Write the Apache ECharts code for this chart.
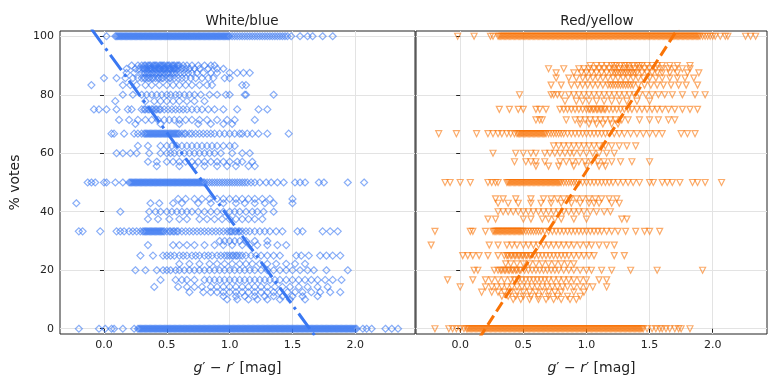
<!DOCTYPE html>
<html><head><meta charset="utf-8">
<script src="https://cdn.jsdelivr.net/npm/echarts@6/dist/echarts.min.js"></script>
<style>html,body{margin:0;padding:0;background:#fff}#c{width:768px;height:383px}</style>
</head><body><div id="c"></div>
<script>
const xTicks = [0, 0.5, 1, 1.5, 2];
const yTicks = [0, 20, 40, 60, 80, 100];

const blueLevels = [100, 90, 88.9, 87.5, 85.7, 83.3, 80, 77.8, 75, 71.4, 70, 66.7, 62.5, 60, 57.1, 55.6, 50, 44.4, 42.9, 40, 37.5, 33.3, 30, 28.6, 25, 22.2, 20, 16.7, 14.3, 12.5, 11.1, 10, 0];
const blueX = [
  [0.02,0.09,0.1,0.11,0.12,0.13,0.14,0.15,0.16,0.17,0.18,0.19,0.2,0.21,0.22,0.23,0.24,0.25,0.26,0.27,0.28,0.29,0.3,0.31,0.32,0.33,0.34,0.35,0.36,0.37,0.38,0.39,0.4,0.41,0.42,0.43,0.44,0.45,0.46,0.47,0.48,0.49,0.5,0.51,0.52,0.53,0.54,0.55,0.56,0.57,0.58,0.59,0.6,0.61,0.62,0.63,0.64,0.65,0.66,0.67,0.68,0.69,0.7,0.71,0.72,0.73,0.74,0.75,0.76,0.77,0.78,0.79,0.8,0.81,0.82,0.83,0.84,0.85,0.86,0.87,0.88,0.89,0.9,0.91,0.92,0.93,0.94,0.95,0.96,0.97,0.98,0.99,1.0,1.02,1.04,1.06,1.08,1.1,1.12,1.14,1.16,1.18,1.2,1.22,1.24,1.26,1.28,1.3,1.32,1.34,1.36,1.38,1.4,1.42,1.44,1.46,1.49,1.56,1.62,1.66,1.74,1.82],
  [0.22,0.27,0.3,0.32,0.33,0.35,0.36,0.37,0.39,0.4,0.41,0.42,0.44,0.45,0.46,0.47,0.48,0.5,0.51,0.52,0.54,0.55,0.56,0.58,0.59,0.6,0.63,0.66,0.7,0.75,0.8,0.85,0.88],
  [0.18,0.25,0.28,0.31,0.32,0.34,0.36,0.37,0.38,0.4,0.41,0.43,0.44,0.45,0.47,0.48,0.49,0.51,0.52,0.53,0.55,0.56,0.57,0.59,0.62,0.65,0.68,0.72,0.76,0.83,0.9,0.95],
  [0.18,0.24,0.3,0.32,0.33,0.35,0.36,0.38,0.39,0.41,0.42,0.44,0.45,0.47,0.48,0.5,0.51,0.53,0.55,0.56,0.58,0.61,0.64,0.67,0.7,0.74,0.79,0.85,0.9,1.0,1.06,1.11,1.16],
  [0.0,0.1,0.17,0.23,0.27,0.3,0.32,0.33,0.35,0.36,0.38,0.39,0.41,0.43,0.44,0.46,0.47,0.5,0.52,0.53,0.56,0.59,0.62,0.65,0.69,0.73,0.78,0.83,0.87,0.96,1.0],
  [-0.1,0.15,0.21,0.26,0.33,0.38,0.44,0.5,0.55,0.6,0.65,0.7,0.76,0.82,0.86,1.1,1.13],
  [0.15,0.23,0.3,0.34,0.38,0.42,0.46,0.5,0.53,0.57,0.6,0.64,0.68,0.72,0.77,0.84,0.9,0.97,1.0,1.12,1.13,1.35],
  [0.09,0.33,0.4,0.45,0.5,0.55,0.6,0.66,0.72,0.8],
  [-0.08,-0.04,0.02,0.1,0.19,0.22,0.3,0.32,0.33,0.35,0.36,0.38,0.39,0.41,0.42,0.44,0.45,0.48,0.51,0.54,0.57,0.6,0.63,0.66,0.7,0.74,0.78,0.83,0.88,0.95,1.06,1.23,1.3],
  [0.12,0.2,0.27,0.33,0.38,0.43,0.48,0.52,0.56,0.6,0.65,0.7,0.76,0.82,0.9,0.98,1.04,1.2],
  [0.25,0.45,0.6,0.75,0.85,0.95,1.02],
  [0.06,0.08,0.16,0.24,0.27,0.3,0.32,0.33,0.34,0.35,0.36,0.37,0.38,0.39,0.4,0.41,0.42,0.43,0.44,0.45,0.46,0.47,0.48,0.49,0.5,0.51,0.52,0.53,0.54,0.55,0.56,0.57,0.58,0.59,0.6,0.62,0.64,0.65,0.68,0.7,0.73,0.76,0.79,0.82,0.85,0.88,0.92,0.96,1.0,1.04,1.08,1.1,1.14,1.18,1.23,1.3,1.47],
  [0.27,0.35,0.45,0.5,0.54,0.58,0.62,0.66,0.7,0.74,0.78,0.82,0.86,0.9,0.95,1.0,1.04],
  [0.1,0.15,0.21,0.26,0.36,0.45,0.5,0.53,0.56,0.6,0.64,0.68,0.72,0.76,0.8,0.84,0.88,0.93,1.02,1.1,1.16],
  [0.35,0.42,0.5,0.55,0.6,0.65,0.7,0.75,0.8,0.85,0.9,0.95,1.0,1.06,1.1,1.18],
  [0.42,0.6,0.72,0.8,0.9,0.98,1.05,1.15,1.2],
  [-0.13,-0.1,-0.07,0.0,0.02,0.09,0.15,0.2,0.21,0.22,0.23,0.24,0.25,0.26,0.27,0.28,0.29,0.3,0.31,0.32,0.33,0.34,0.35,0.36,0.37,0.38,0.39,0.4,0.41,0.42,0.43,0.44,0.45,0.46,0.47,0.48,0.49,0.5,0.51,0.52,0.53,0.54,0.55,0.56,0.57,0.58,0.59,0.6,0.61,0.62,0.63,0.64,0.65,0.66,0.67,0.68,0.69,0.7,0.71,0.72,0.73,0.74,0.75,0.76,0.77,0.78,0.79,0.8,0.82,0.84,0.86,0.88,0.9,0.92,0.94,0.96,0.98,1.0,1.02,1.04,1.06,1.08,1.1,1.12,1.14,1.17,1.2,1.24,1.29,1.33,1.38,1.43,1.52,1.56,1.6,1.71,1.75,1.94,2.07],
  [0.59,0.65,0.72,0.78,0.84,0.9,0.95,1.0,1.05,1.1,1.15,1.2,1.26,1.32,1.5],
  [-0.22,0.37,0.44,0.55,0.62,0.75,0.85,0.95,1.05,1.12,1.2,1.28,1.35,1.5],
  [0.13,0.36,0.41,0.45,0.5,0.54,0.58,0.62,0.66,0.7,0.75,0.8,0.85,0.9,0.95,1.0,1.04,1.08,1.13,1.18,1.22,1.27,1.35],
  [0.35,0.43,0.52,0.6,0.66,0.76,0.82,0.88,0.94,1.0,1.05,1.1,1.15,1.2,1.26],
  [-0.2,-0.17,-0.03,0.1,0.13,0.16,0.2,0.23,0.26,0.29,0.31,0.32,0.33,0.34,0.35,0.36,0.37,0.38,0.39,0.4,0.41,0.42,0.43,0.44,0.45,0.46,0.47,0.48,0.5,0.52,0.53,0.55,0.56,0.58,0.59,0.62,0.65,0.68,0.71,0.74,0.77,0.8,0.83,0.86,0.89,0.92,0.95,0.98,1.0,1.01,1.02,1.04,1.05,1.07,1.08,1.1,1.13,1.16,1.2,1.24,1.28,1.32,1.37,1.42,1.54,1.58,1.74,1.8,1.86],
  [0.92,0.96,1.0,1.04,1.08,1.13,1.2,1.3],
  [0.35,0.55,0.6,0.66,0.72,0.8,0.88,0.95,1.02,1.1,1.16,1.22,1.3,1.38,1.45],
  [0.29,0.39,0.47,0.5,0.53,0.56,0.6,0.63,0.66,0.7,0.73,0.76,0.8,0.83,0.86,0.9,0.93,0.96,0.98,1.0,1.02,1.03,1.05,1.06,1.08,1.1,1.13,1.17,1.21,1.25,1.3,1.35,1.4,1.53,1.57,1.63,1.72,1.77,1.82,1.88],
  [0.6,0.68,0.76,0.84,0.9,0.96,1.02,1.08,1.13,1.18,1.24,1.3,1.37,1.45,1.52,1.6],
  [0.25,0.33,0.42,0.47,0.5,0.53,0.57,0.6,0.64,0.68,0.72,0.76,0.8,0.84,0.88,0.92,0.96,1.0,1.04,1.08,1.12,1.16,1.2,1.25,1.3,1.35,1.4,1.45,1.5,1.56,1.62,1.67,1.77,1.94],
  [0.45,0.57,0.62,0.66,0.72,0.8,0.84,0.88,0.92,0.96,1.0,1.04,1.08,1.12,1.16,1.2,1.24,1.28,1.32,1.36,1.4,1.45,1.5,1.55,1.6,1.65,1.7,1.76,1.82,1.89],
  [0.4,0.59,0.66,0.72,0.78,0.85,0.9,0.95,1.0,1.05,1.1,1.15,1.2,1.25,1.3,1.36,1.42,1.48,1.55,1.62,1.7,1.78],
  [0.68,0.79,0.85,0.9,0.95,1.0,1.05,1.1,1.15,1.2,1.25,1.3,1.35,1.4,1.46,1.52,1.58,1.65,1.72,1.8,1.88],
  [0.95,1.05,1.12,1.2,1.28,1.35,1.42,1.5,1.58,1.7],
  [0.98,1.06,1.15,1.22,1.3,1.4,1.48,1.6],
  [-0.2,-0.04,0.01,0.06,0.08,0.15,0.24,0.27,0.28,0.29,0.3,0.31,0.32,0.33,0.34,0.35,0.36,0.37,0.38,0.39,0.4,0.41,0.42,0.43,0.44,0.45,0.46,0.47,0.48,0.49,0.5,0.51,0.52,0.53,0.54,0.55,0.56,0.57,0.58,0.59,0.6,0.61,0.62,0.63,0.64,0.65,0.66,0.67,0.68,0.69,0.7,0.71,0.72,0.73,0.74,0.75,0.76,0.77,0.78,0.79,0.8,0.81,0.82,0.83,0.84,0.85,0.86,0.87,0.88,0.89,0.9,0.91,0.92,0.93,0.94,0.95,0.96,0.97,0.98,0.99,1.0,1.01,1.02,1.03,1.04,1.05,1.06,1.07,1.08,1.09,1.1,1.11,1.12,1.13,1.14,1.15,1.16,1.17,1.18,1.19,1.2,1.21,1.22,1.23,1.24,1.25,1.26,1.27,1.28,1.29,1.3,1.31,1.32,1.33,1.34,1.35,1.36,1.37,1.38,1.39,1.4,1.41,1.42,1.43,1.44,1.45,1.46,1.47,1.48,1.49,1.5,1.51,1.52,1.53,1.54,1.55,1.56,1.57,1.58,1.59,1.6,1.61,1.62,1.63,1.64,1.65,1.66,1.67,1.68,1.69,1.7,1.71,1.72,1.73,1.74,1.75,1.76,1.77,1.78,1.79,1.8,1.81,1.82,1.83,1.84,1.85,1.86,1.87,1.88,1.89,1.9,1.91,1.92,1.93,1.94,1.95,1.96,1.97,1.98,1.99,2.0,2.01,2.06,2.09,2.13,2.24,2.29,2.34]
];

const orangeLevels = [100, 90, 88.9, 87.5, 85.7, 83.3, 80, 77.8, 75, 71.4, 70, 66.7, 62.5, 60, 57.1, 55.6, 50, 44.4, 42.9, 40, 37.5, 33.3, 28.6, 25, 22.2, 20, 16.7, 14.3, 12.5, 11.1, 10, 0];
const orangeX = [
  [-0.02,0.11,0.24,0.26,0.3,0.31,0.32,0.33,0.34,0.35,0.36,0.37,0.38,0.39,0.4,0.41,0.42,0.43,0.44,0.45,0.46,0.47,0.48,0.49,0.5,0.51,0.52,0.53,0.54,0.55,0.56,0.57,0.58,0.59,0.6,0.61,0.62,0.63,0.64,0.65,0.66,0.67,0.68,0.69,0.7,0.71,0.72,0.73,0.74,0.75,0.76,0.77,0.78,0.79,0.8,0.81,0.82,0.83,0.84,0.85,0.86,0.87,0.88,0.89,0.9,0.91,0.92,0.93,0.94,0.95,0.96,0.97,0.98,0.99,1.0,1.01,1.02,1.03,1.04,1.05,1.06,1.07,1.08,1.09,1.1,1.11,1.12,1.13,1.14,1.15,1.16,1.17,1.18,1.19,1.2,1.21,1.22,1.23,1.24,1.25,1.26,1.27,1.28,1.29,1.3,1.31,1.32,1.33,1.34,1.35,1.36,1.37,1.38,1.39,1.4,1.41,1.42,1.43,1.44,1.45,1.46,1.47,1.48,1.49,1.5,1.51,1.52,1.53,1.54,1.55,1.56,1.57,1.58,1.59,1.6,1.61,1.62,1.63,1.64,1.65,1.66,1.67,1.68,1.69,1.7,1.71,1.72,1.73,1.74,1.75,1.76,1.77,1.78,1.79,1.8,1.81,1.82,1.83,1.84,1.85,1.86,1.87,1.88,1.89,1.9,1.92,1.94,1.96,1.98,2.0,2.02,2.06,2.1,2.12,2.26,2.3,2.34],
  [1.03,1.08,1.12,1.16,1.2,1.22,1.24,1.27,1.3,1.32,1.34,1.37,1.4,1.42,1.44,1.48,1.52,1.56,1.6,1.66,1.72,1.82],
  [0.7,0.82,0.94,0.98,1.02,1.06,1.1,1.14,1.18,1.22,1.26,1.3,1.34,1.38,1.42,1.46,1.5,1.55,1.6,1.65,1.7,1.76,1.82],
  [0.76,0.9,0.96,1.0,1.04,1.08,1.12,1.16,1.2,1.22,1.24,1.26,1.28,1.3,1.32,1.34,1.36,1.38,1.4,1.44,1.48,1.52,1.56,1.6,1.66,1.72,1.8,1.89],
  [0.76,0.86,0.92,0.97,1.01,1.05,1.09,1.13,1.17,1.21,1.25,1.29,1.33,1.37,1.41,1.45,1.5,1.55,1.6,1.66,1.72,1.78,1.85],
  [0.72,0.8,0.88,0.93,0.97,1.01,1.05,1.09,1.13,1.17,1.19,1.21,1.23,1.25,1.27,1.29,1.31,1.33,1.35,1.37,1.41,1.46,1.51,1.56,1.61,1.67,1.73,1.79,1.88],
  [0.47,0.72,0.74,0.77,0.8,0.86,0.9,0.94,0.98,1.02,1.06,1.1,1.14,1.18,1.22,1.26,1.3,1.34,1.38,1.42,1.47,1.52,1.57,1.62,1.68,1.76,1.86,1.94],
  [0.83,0.92,0.97,1.02,1.08,1.14,1.2,1.26,1.32,1.4,1.5],
  [0.31,0.39,0.46,0.5,0.6,0.63,0.68,0.79,0.82,0.85,0.88,0.91,0.94,0.97,1.0,1.02,1.03,1.05,1.06,1.08,1.09,1.11,1.12,1.14,1.15,1.18,1.21,1.24,1.27,1.3,1.33,1.36,1.4,1.44,1.48,1.52,1.56,1.6,1.65,1.7,1.76,1.82,1.88],
  [0.6,0.63,0.65,0.84,0.91,0.95,0.99,1.03,1.07,1.11,1.15,1.19,1.23,1.28,1.33,1.42,1.5,1.57,1.65,1.7],
  [0.95,1.02,1.08,1.13,1.2,1.25],
  [-0.17,-0.03,0.13,0.22,0.26,0.3,0.33,0.37,0.4,0.43,0.45,0.46,0.47,0.48,0.49,0.5,0.51,0.52,0.53,0.54,0.55,0.56,0.57,0.58,0.59,0.6,0.61,0.62,0.63,0.64,0.65,0.66,0.67,0.68,0.7,0.72,0.74,0.76,0.78,0.8,0.82,0.85,0.88,0.91,0.94,0.97,1.0,1.03,1.06,1.09,1.12,1.15,1.18,1.22,1.26,1.3,1.35,1.4,1.45,1.5,1.55,1.6,1.75,1.8,1.86],
  [0.74,0.78,0.82,0.86,0.9,0.94,0.98,1.02,1.06,1.1,1.15,1.2,1.26,1.32,1.39],
  [0.26,0.44,0.5,0.56,0.6,0.67,0.71,0.75,0.79,0.83,0.87,0.9,0.95,1.0,1.05,1.1,1.16,1.22],
  [0.43,0.52,0.56,0.6,0.67,0.79,0.84,0.89,0.94,0.99,1.04,1.09,1.14,1.2,1.27,1.36,1.5],
  [0.6,0.7,0.78,0.9,1.0,1.1,1.15],
  [-0.12,-0.08,0.0,0.08,0.22,0.25,0.28,0.3,0.37,0.38,0.39,0.4,0.41,0.42,0.43,0.44,0.45,0.46,0.47,0.48,0.49,0.5,0.51,0.52,0.53,0.54,0.55,0.56,0.57,0.58,0.59,0.6,0.61,0.62,0.63,0.64,0.65,0.66,0.67,0.68,0.69,0.7,0.71,0.72,0.73,0.74,0.75,0.76,0.77,0.78,0.79,0.8,0.82,0.84,0.86,0.88,0.9,0.92,0.94,0.97,1.0,1.03,1.06,1.09,1.12,1.15,1.18,1.21,1.25,1.29,1.33,1.37,1.42,1.5,1.53,1.6,1.64,1.68,1.74,1.84,1.88,1.94,2.07],
  [0.28,0.34,0.44,0.56,0.66,0.72,0.77,0.82,0.87,0.92,0.97,1.02,1.07,1.12,1.18,1.24],
  [0.3,0.38,0.46,0.56,0.64,0.72,0.8,0.88,0.95,1.02,1.06,1.1,1.2,1.26],
  [0.3,0.34,0.38,0.42,0.46,0.5,0.54,0.58,0.62,0.66,0.7,0.74,0.78,0.82,0.86,0.9,0.94,0.98,1.03,1.08,1.14,1.19],
  [0.22,0.28,0.5,0.56,0.65,0.7,0.75,0.8,0.9,1.0,1.28,1.32],
  [-0.2,0.08,0.1,0.2,0.26,0.27,0.28,0.29,0.3,0.31,0.32,0.33,0.34,0.35,0.36,0.37,0.38,0.39,0.4,0.41,0.42,0.43,0.44,0.45,0.46,0.47,0.48,0.49,0.5,0.52,0.54,0.56,0.58,0.6,0.62,0.64,0.67,0.7,0.73,0.76,0.79,0.82,0.85,0.88,0.91,0.94,0.97,1.0,1.03,1.06,1.09,1.12,1.16,1.2,1.25,1.31,1.39,1.46,1.5,1.58],
  [-0.23,0.23,0.3,0.37,0.41,0.45,0.5,0.54,0.58,0.62,0.66,0.7,0.74,0.78,0.82,0.86,0.9,0.95,1.0,1.04,1.1,1.16,1.22],
  [0.02,0.06,0.1,0.15,0.22,0.3,0.35,0.37,0.38,0.4,0.41,0.43,0.44,0.46,0.47,0.49,0.5,0.52,0.53,0.55,0.56,0.59,0.62,0.65,0.68,0.71,0.74,0.77,0.8,0.83,0.86,0.9,0.94,0.98,1.02,1.06,1.22,1.3],
  [0.36,0.4,0.45,0.5,0.55,0.6,0.65,0.7,0.75,0.8,0.85,0.9],
  [0.11,0.14,0.27,0.3,0.32,0.33,0.35,0.36,0.38,0.39,0.41,0.42,0.44,0.45,0.47,0.48,0.51,0.54,0.57,0.6,0.63,0.66,0.69,0.72,0.75,0.78,0.82,0.86,0.9,0.95,1.0,1.04,1.12,1.2,1.35,1.56,1.92],
  [-0.1,0.1,0.2,0.25,0.3,0.35,0.4,0.43,0.46,0.49,0.52,0.55,0.58,0.61,0.64,0.67,0.7,0.74,0.78,0.82,0.86,0.9,0.95,1.0,1.1,1.16],
  [0.0,0.2,0.25,0.29,0.33,0.37,0.41,0.45,0.49,0.53,0.57,0.61,0.65,0.69,0.73,0.77,0.81,0.85,0.9,0.95,1.0,1.05,1.16],
  [0.17,0.25,0.3,0.35,0.4,0.45,0.5,0.55,0.6,0.65,0.7,0.75,0.8,0.9,0.98],
  [0.33,0.38,0.44,0.5,0.56,0.62,0.7,0.77,0.85,0.95],
  [0.42,0.48,0.55,0.62,0.68,0.74,0.8,0.87,0.92],
  [-0.2,-0.09,-0.06,-0.03,0.0,0.03,0.05,0.06,0.07,0.08,0.09,0.1,0.11,0.12,0.13,0.14,0.15,0.16,0.17,0.18,0.19,0.2,0.21,0.22,0.23,0.24,0.25,0.26,0.27,0.28,0.29,0.3,0.31,0.32,0.33,0.34,0.35,0.36,0.37,0.38,0.39,0.4,0.41,0.42,0.43,0.44,0.45,0.46,0.47,0.48,0.49,0.5,0.51,0.52,0.53,0.54,0.55,0.56,0.57,0.58,0.59,0.6,0.61,0.62,0.63,0.64,0.65,0.66,0.67,0.68,0.69,0.7,0.71,0.72,0.73,0.74,0.75,0.76,0.77,0.78,0.79,0.8,0.81,0.82,0.83,0.84,0.85,0.86,0.87,0.88,0.89,0.9,0.91,0.92,0.93,0.94,0.95,0.96,0.97,0.98,0.99,1.0,1.01,1.02,1.03,1.04,1.05,1.06,1.07,1.08,1.09,1.1,1.11,1.12,1.13,1.14,1.15,1.16,1.17,1.18,1.19,1.2,1.21,1.22,1.23,1.24,1.25,1.26,1.27,1.28,1.29,1.3,1.31,1.32,1.33,1.34,1.35,1.36,1.37,1.38,1.39,1.4,1.41,1.42,1.43,1.44,1.45,1.48,1.52,1.55,1.58,1.6,1.63,1.66,1.7,1.73,1.75,1.82]
];

const blueFit = [[-0.1, 102.5], [1.7, -3.7]];
const orangeFit = [[0.15, -3.3], [1.8, 107.7]];

const BLUE = '#3a78f2';
const ORANGE = '#f97306';
const FONT = 'DejaVu Sans';

function pts(levels, xs) {
  const out = [];
  levels.forEach((y, i) => xs[i].forEach(x => out.push([x, y])));
  return out;
}

function xAxis(idx, min, max) {
  return {
    type: 'value', gridIndex: idx, min: min, max: max,
    axisLine: {show: false},
    axisTick: {show: true, customValues: xTicks, length: 4, lineStyle: {color: '#222'}},
    axisLabel: {customValues: xTicks, formatter: v => v.toFixed(1), fontSize: 11, color: '#222', margin: 6, fontFamily: FONT},
    splitLine: {show: true, lineStyle: {color: '#e3e3e3', width: 1}},
    name: '{it|g}′ − {it|r}′ [mag]', nameLocation: 'middle', nameGap: 27,
    nameTextStyle: {fontSize: 14, color: '#222', fontFamily: FONT, rich: {it: {fontStyle: 'italic', fontSize: 14, fontFamily: FONT, color: '#222'}}}
  };
}
function yAxis(idx, labels) {
  return {
    type: 'value', gridIndex: idx, min: -1.8, max: 101.8,
    axisLine: {show: false},
    axisTick: {show: true, customValues: yTicks, length: 4, lineStyle: {color: '#222'}},
    axisLabel: {show: labels, customValues: yTicks, fontSize: 11, color: '#222', margin: 6, fontFamily: FONT},
    splitLine: {show: true, lineStyle: {color: '#e3e3e3', width: 1}},
    name: labels ? '% votes' : '', nameLocation: 'middle', nameGap: 38, nameRotate: 90,
    nameTextStyle: {fontSize: 14, color: '#222', fontFamily: FONT}
  };
}

const chart = echarts.init(document.getElementById('c'), null, {renderer: 'canvas'});
chart.setOption({
  animation: false,
  backgroundColor: '#fff',
  title: [
    {text: 'White/blue', left: 237, top: 9, textAlign: 'center', textStyle: {fontSize: 13.5, fontWeight: 'normal', color: '#222', fontFamily: FONT}},
    {text: 'Red/yellow', left: 592, top: 9, textAlign: 'center', textStyle: {fontSize: 13.5, fontWeight: 'normal', color: '#222', fontFamily: FONT}}
  ],
  grid: [
    {left: 60, top: 31, width: 355, height: 303, show: true, borderColor: '#222', borderWidth: 1, backgroundColor: 'transparent'},
    {left: 416, top: 31, width: 351, height: 303, show: true, borderColor: '#222', borderWidth: 1, backgroundColor: 'transparent'}
  ],
  xAxis: [xAxis(0, -0.35, 2.475), xAxis(1, -0.35, 2.43)],
  yAxis: [yAxis(0, true), yAxis(1, false)],
  series: [
    {type: 'scatter', xAxisIndex: 0, yAxisIndex: 0, data: pts(blueLevels, blueX), symbol: 'diamond', symbolSize: 7,
     itemStyle: {color: 'rgba(0,0,0,0)', borderColor: BLUE, borderWidth: 1.2, opacity: 0.6}, z: 2},
    {type: 'scatter', xAxisIndex: 1, yAxisIndex: 1, data: pts(orangeLevels, orangeX), symbol: 'triangle', symbolRotate: 180, symbolSize: 6,
     itemStyle: {color: 'rgba(0,0,0,0)', borderColor: ORANGE, borderWidth: 1.2, opacity: 0.6}, z: 2},
    {type: 'line', xAxisIndex: 0, yAxisIndex: 0, data: blueFit, symbol: 'none', clip: true,
     lineStyle: {color: BLUE, width: 3, type: [19, 5, 3, 5]}, z: 5},
    {type: 'line', xAxisIndex: 1, yAxisIndex: 1, data: orangeFit, symbol: 'none', clip: true,
     lineStyle: {color: ORANGE, width: 3, type: [11, 5]}, z: 5}
  ]
});
</script>
</body></html>
